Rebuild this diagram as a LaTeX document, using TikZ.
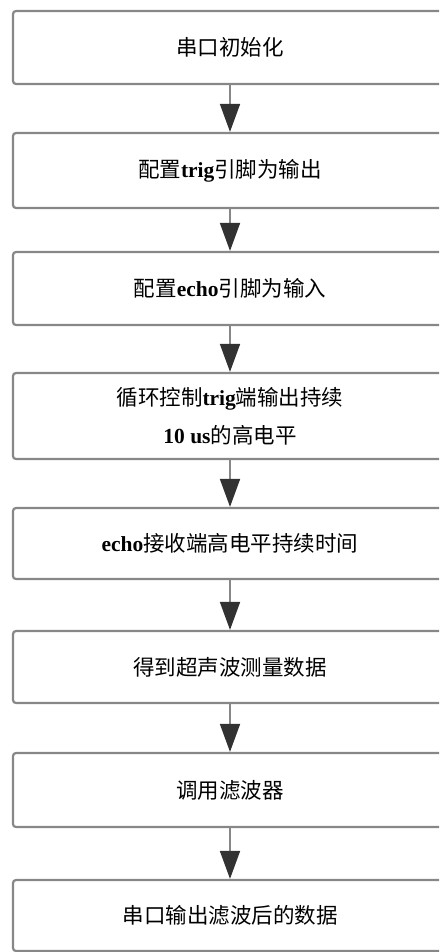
\documentclass[tikz,border=0pt]{standalone}
\usepackage{fontspec}
\setmainfont{Liberation Serif}[UprightFont=* Bold]
\newfontfamily\cjk{Noto Sans CJK SC}
\usetikzlibrary{arrows.meta}
\definecolor{boxgray}{RGB}{135,135,135}
\definecolor{tipdark}{RGB}{50,50,50}
\begin{document}
\begin{tikzpicture}[x=1pt,y=-1pt,
  stepbox/.style={draw=boxgray, line width=2.2pt, rounded corners=3pt,
    minimum width=434pt, inner sep=0pt, align=center,
    font=\fontsize{21.5}{38}\selectfont},
  flow/.style={draw=boxgray, line width=1.8pt,
    -{Triangle[width=20pt,length=28pt,color=tipdark]}}]
\useasboundingbox (0,0) rectangle (439,952);
\clip (0,0) rectangle (439,952);
\node[stepbox, minimum height=73pt] (b1) at (230,47.5) {{\cjk 串口初始化}};
\node[stepbox, minimum height=75pt] (b2) at (230,170.5) {{\cjk 配置}trig{\cjk 引脚为输出}};
\node[stepbox, minimum height=73pt] (b3) at (230,288.5) {{\cjk 配置}echo{\cjk 引脚为输入}};
\node[stepbox, minimum height=86pt] (b4) at (230,416) {{\cjk 循环控制}trig{\cjk 端输出持续}\\10 us{\cjk 的高电平}};
\node[stepbox, minimum height=71pt] (b5) at (230,543.5) {echo{\cjk 接收端高电平持续时间}};
\node[stepbox, minimum height=72pt] (b6) at (230,667) {{\cjk 得到超声波测量数据}};
\node[stepbox, minimum height=74pt] (b7) at (230,790) {{\cjk 调用滤波器}};
\node[stepbox, minimum height=71pt] (b8) at (230,915.5) {{\cjk 串口输出滤波后的数据}};
\draw[flow] (b1) -- (b2);
\draw[flow] (b2) -- (b3);
\draw[flow] (b3) -- (b4);
\draw[flow] (b4) -- (b5);
\draw[flow] (b5) -- (b6);
\draw[flow] (b6) -- (b7);
\draw[flow] (b7) -- (b8);
\end{tikzpicture}
\end{document}
